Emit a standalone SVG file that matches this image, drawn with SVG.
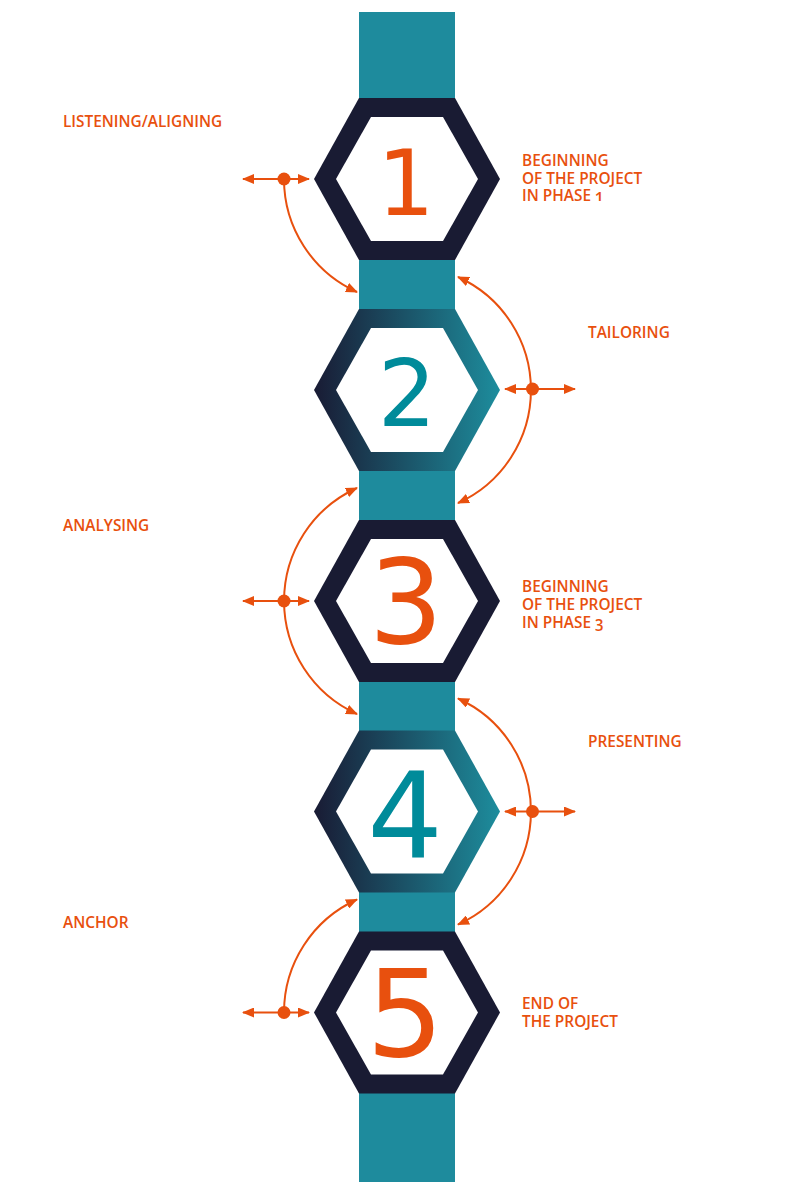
<svg xmlns="http://www.w3.org/2000/svg" width="804" height="1192" viewBox="0 0 804 1192">
<style>
.col{fill:#1e8b9d}
.navy{fill:#191b33}
.grad{fill:url(#hg)}
.inner{fill:#ffffff}
.lbl{font-family:"Open Sans","Liberation Sans",sans-serif;font-size:15.4px;font-weight:600;fill:#e8500e;font-variant-numeric:oldstyle-nums}
.num{font-family:"DejaVu Sans","Liberation Sans",sans-serif;text-anchor:middle}
.o{fill:#e8500e}
.t{fill:#008b9a}
.arc{fill:none;stroke:#e8500e;stroke-width:2}
.dot{fill:#e8500e}
</style>
<defs>
<linearGradient id="hg" x1="0" y1="0" x2="1" y2="0">
<stop offset="0" stop-color="#191b34"/>
<stop offset="1" stop-color="#1d8d9d"/>
</linearGradient>
<marker id="ah" viewBox="0 0 12 10" refX="11" refY="5" markerWidth="12" markerHeight="10" markerUnits="userSpaceOnUse" orient="auto-start-reverse">
<path d="M0,0 L12,5 L0,10 z" fill="#e8500e"/>
</marker>
<path id="hexO" d="M-48,-81 H48 L93,0 L48,81 H-48 L-93,0 Z"/>
<path id="hexI" d="M-36,-62 H36 L71,0 L36,62 H-36 L-71,0 Z"/>
</defs>
<rect class="col" x="359" y="12" width="96" height="1170"/>
<g id="node1">
<use href="#hexO" class="navy" x="407" y="179"/>
<use href="#hexI" class="inner" x="407" y="179"/>
<text class="num o" x="406" y="215" font-size="90">1</text>
</g>
<g id="node2">
<use href="#hexO" class="grad" x="407" y="390"/>
<use href="#hexI" class="inner" x="407" y="390"/>
<text class="num t" x="407" y="426" font-size="92">2</text>
</g>
<g id="node3">
<use href="#hexO" class="navy" x="407" y="601"/>
<use href="#hexI" class="inner" x="407" y="601"/>
<text class="num o" x="406" y="643" font-size="117">3</text>
</g>
<g id="node4">
<use href="#hexO" class="grad" x="407" y="811.5"/>
<use href="#hexI" class="inner" x="407" y="811.5"/>
<text class="num t" x="405" y="858" font-size="119">4</text>
</g>
<g id="node5">
<use href="#hexO" class="navy" x="407" y="1012.5"/>
<use href="#hexI" class="inner" x="407" y="1012.5"/>
<text class="num o" x="405" y="1056" font-size="122">5</text>
</g>
<g id="connectors">
<path class="arc" d="M243,179 H309" marker-start="url(#ah)" marker-end="url(#ah)"/>
<path class="arc" d="M284,179 A124,124 0 0 0 357,292" marker-end="url(#ah)"/>
<circle class="dot" cx="284" cy="179" r="6.5"/>
<path class="arc" d="M505,389 H575" marker-start="url(#ah)" marker-end="url(#ah)"/>
<path class="arc" d="M458,277 A124,124 0 0 1 458,503" marker-start="url(#ah)" marker-end="url(#ah)"/>
<circle class="dot" cx="532.5" cy="389" r="6.5"/>
<path class="arc" d="M243,601 H309" marker-start="url(#ah)" marker-end="url(#ah)"/>
<path class="arc" d="M357,488 A124,124 0 0 0 357,714" marker-start="url(#ah)" marker-end="url(#ah)"/>
<circle class="dot" cx="284" cy="601" r="6.5"/>
<path class="arc" d="M505,811.5 H575" marker-start="url(#ah)" marker-end="url(#ah)"/>
<path class="arc" d="M458,698.5 A124,124 0 0 1 458,924.5" marker-start="url(#ah)" marker-end="url(#ah)"/>
<circle class="dot" cx="532.5" cy="811.5" r="6.5"/>
<path class="arc" d="M243,1012.5 H309" marker-start="url(#ah)" marker-end="url(#ah)"/>
<path class="arc" d="M284,1012.5 A124,124 0 0 1 357,899.5" marker-end="url(#ah)"/>
<circle class="dot" cx="284" cy="1012.5" r="6.5"/>
</g>
<g id="labels">
<text class="lbl" x="63" y="127">LISTENING/ALIGNING</text>
<text class="lbl" x="522" y="166">BEGINNING</text>
<text class="lbl" x="522" y="183.5">OF THE PROJECT</text>
<text class="lbl" x="522" y="201">IN PHASE 1</text>
<text class="lbl" x="588" y="338">TAILORING</text>
<text class="lbl" x="63" y="530.5">ANALYSING</text>
<text class="lbl" x="522" y="592">BEGINNING</text>
<text class="lbl" x="522" y="610">OF THE PROJECT</text>
<text class="lbl" x="522" y="627.5">IN PHASE 3</text>
<text class="lbl" x="588" y="746.5">PRESENTING</text>
<text class="lbl" x="63" y="928">ANCHOR</text>
<text class="lbl" x="522" y="1009">END OF</text>
<text class="lbl" x="522" y="1027">THE PROJECT</text>
</g>
</svg>
